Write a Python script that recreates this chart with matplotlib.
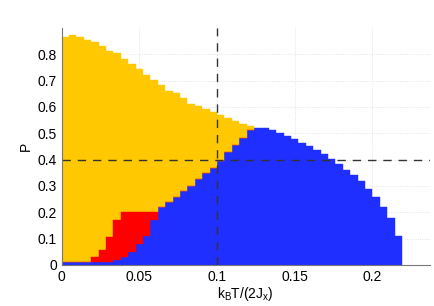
import numpy as np
import matplotlib
matplotlib.use('Agg')
import matplotlib.pyplot as plt

plt.rcParams['font.family'] = ['Liberation Sans', 'DejaVu Sans']
plt.rcParams['mathtext.default'] = 'regular'

# column width in k_B T/(2J_x)
dx = 0.1 / 21
n_cols = 46

# top of the blue phase in each column (from P = 0)
blue_top = [0.01, 0.01, 0.01, 0.01, 0.01, 0.01, 0.01, 0.02, 0.03, 0.05,
            0.08, 0.11, 0.17, 0.22, 0.24, 0.26, 0.28, 0.30, 0.325, 0.35,
            0.37, 0.395, 0.43, 0.457, 0.483, 0.514, 0.521, 0.521, 0.512, 0.502,
            0.491, 0.479, 0.463, 0.45, 0.435, 0.42, 0.403, 0.382, 0.36, 0.341,
            0.318, 0.288, 0.257, 0.219, 0.178, 0.109]

# top of the red phase (sits on the blue one)
red_top = [0.01, 0.01, 0.01, 0.01, 0.03, 0.057, 0.108, 0.169, 0.2, 0.2,
           0.2, 0.2, 0.2]

# top of the yellow phase
yellow_top = [0.864, 0.873, 0.864, 0.855, 0.845, 0.832, 0.813, 0.804, 0.782, 0.762,
              0.743, 0.722, 0.702, 0.682, 0.662, 0.652, 0.633, 0.612, 0.602, 0.592,
              0.582, 0.571, 0.559, 0.545, 0.535, 0.529]

c_yellow = '#FFC800'
c_blue = '#1F2FFF'
c_red = '#FF0000'

x_left = np.arange(n_cols) * dx
blue = np.array(blue_top)
red = np.array(red_top + blue_top[len(red_top):len(yellow_top)])
yellow = np.array(yellow_top)
ny = len(yellow_top)

fig = plt.figure(figsize=(4.35, 3.06), dpi=100)
ax = fig.add_axes([0.1418, 0.134, 0.8467, 0.7745])

ax.bar(x_left, blue, width=dx, align='edge', color=c_blue, edgecolor=c_blue, linewidth=0.3)
ax.bar(x_left[:ny], yellow - red, bottom=red, width=dx, align='edge',
       color=c_yellow, edgecolor=c_yellow, linewidth=0.3)
# red on top so the yellow edges do not cover it
ax.bar(x_left[:ny], red - blue[:ny], bottom=blue[:ny], width=dx, align='edge',
       color=c_red, edgecolor=c_red, linewidth=0.3)

ax.axvline(0.1, color='#333333', ls=(0, (6, 5)), lw=1.0)
ax.axhline(0.4, color='#333333', ls=(0, (6, 5)), lw=1.0)

ax.set_xlim(0, 0.237)
ax.set_ylim(0, 0.9)
ax.set_xticks([0, 0.05, 0.1, 0.15, 0.2])
ax.set_xticklabels(['0', '0.05', '0.1', '0.15', '0.2'])
ax.set_yticks(np.arange(0, 0.81, 0.1))
ax.set_yticklabels(['0', '0.1', '0.2', '0.3', '0.4', '0.5', '0.6', '0.7', '0.8'])
ax.grid(True, color='#dddddd', ls=':', lw=0.6)
ax.set_axisbelow(True)
ax.tick_params(direction='in', length=3, labelsize=10, color='#555555')
for s in ['top', 'right']:
    ax.spines[s].set_visible(False)
for s in ['left', 'bottom']:
    ax.spines[s].set_color('#777777')
    ax.spines[s].set_linewidth(0.8)

ax.set_xlabel(r'k$_B$T/(2J$_x$)', fontsize=10, labelpad=1)
ax.set_ylabel('P', fontsize=10, labelpad=3)

fig.savefig('out.png', dpi=100)
